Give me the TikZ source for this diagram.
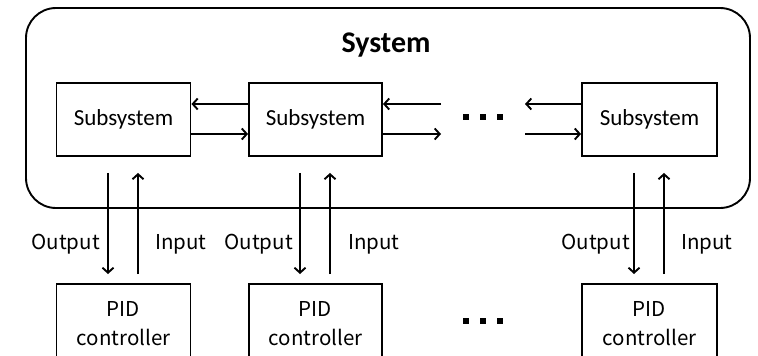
\documentclass[tikz,border=0pt]{standalone}
\usepackage{fontspec}
\setmainfont{Carlito}
\newfontfamily\labfont{Noto Sans CJK JP}
\usetikzlibrary{arrows.meta}
\tikzset{
  sysbox/.style={draw, line width=1.9pt, rounded corners=30pt},
  subbox/.style={draw, line width=1.9pt, minimum width=134pt, minimum height=73pt, inner sep=0pt, font=\fontsize{23}{28}\selectfont},
  pidbox/.style={draw, line width=1.9pt, minimum width=134pt, minimum height=80pt, inner sep=0pt, anchor=north, align=center, font=\labfont\fontsize{20.5}{29}\selectfont},
  lab/.style={inner sep=0pt, font=\labfont\fontsize{20.5}{24}\selectfont},
  arr/.style={line width=1.9pt, -{Straight Barb[length=5pt,width=11pt,line width=1.9pt]}},
  dot/.style={fill=black, minimum size=6.5pt, inner sep=0pt, draw=none}
}
\begin{document}
\begin{tikzpicture}[x=1pt,y=-1pt]
\useasboundingbox (0,0) rectangle (758,356);
\clip (0,0) rectangle (758,356);
\draw[sysbox] (26,8) rectangle (750,208);
\node[font=\bfseries\fontsize{30}{34}\selectfont] (title) at (386,45) {System};
\node[subbox] (sub1) at (123.5,119.5) {Subsystem};
\node[subbox, minimum width=133pt] (sub2) at (315.5,119.5) {Subsystem};
\node[subbox, minimum width=135pt] (sub3) at (649.5,119.5) {Subsystem};
\coordinate (r2u) at (441,104);
\coordinate (r2l) at (441,134);
\coordinate (l3u) at (525,104);
\coordinate (l3l) at (525,134);
\draw[arr] ([yshift=15.5pt]sub2.west) -- ([yshift=15.5pt]sub1.east);
\draw[arr] ([yshift=-14.5pt]sub1.east) -- ([yshift=-14.5pt]sub2.west);
\draw[arr] (r2u) -- ([yshift=15.5pt]sub2.east);
\draw[arr] ([yshift=-14.5pt]sub2.east) -- (r2l);
\draw[arr] ([yshift=15.5pt]sub3.west) -- (l3u);
\draw[arr] (l3l) -- ([yshift=-14.5pt]sub3.west);
\node[dot] (d1) at (466,117) {};
\node[dot] (d2) at (483,117) {};
\node[dot] (d3) at (500,117) {};
\node[pidbox] (pid1) at (123.5,283) {PID\\controller};
\node[pidbox, minimum width=133pt] (pid2) at (315.5,283) {PID\\controller};
\node[pidbox, minimum width=135pt] (pid3) at (649.5,283) {PID\\controller};
\node[dot] (e1) at (466,321) {};
\node[dot] (e2) at (483,321) {};
\node[dot] (e3) at (500,321) {};
\foreach \n in {1,2,3}{
  \draw[arr, shorten <=16pt, shorten >=9pt] ([xshift=-15.5pt]sub\n.south) -- ([xshift=-15.5pt]pid\n.north);
  \draw[arr, shorten <=9pt, shorten >=16pt] ([xshift=14.5pt]pid\n.north) -- ([xshift=14.5pt]sub\n.south);
}
\node[lab, anchor=east] (o1) at (100,244) {Output};
\node[lab, anchor=west] (i1) at (155,244) {Input};
\node[lab, anchor=east] (o2) at (293,244) {Output};
\node[lab, anchor=west] (i2) at (348,244) {Input};
\node[lab, anchor=east] (o3) at (630,244) {Output};
\node[lab, anchor=west] (i3) at (681,244) {Input};
\end{tikzpicture}
\end{document}
